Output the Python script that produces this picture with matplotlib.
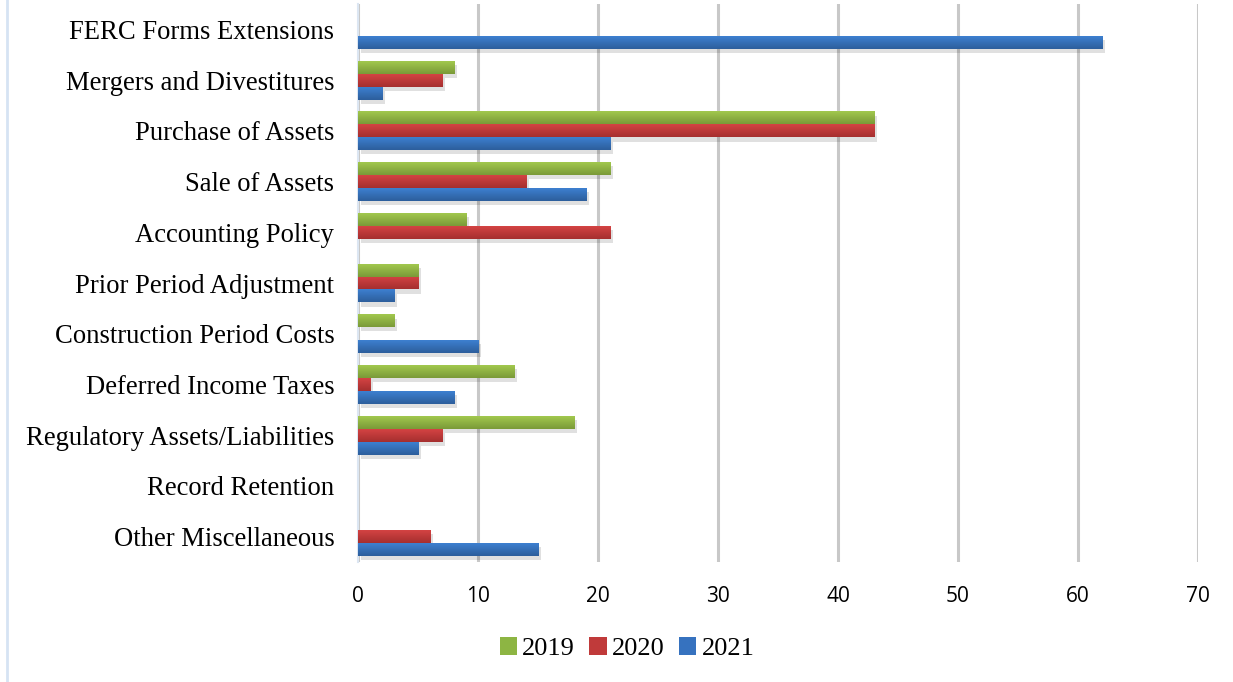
import numpy as np
import matplotlib
matplotlib.use("Agg")
import matplotlib.pyplot as plt
from matplotlib.colors import LinearSegmentedColormap
from matplotlib.patches import Patch
from matplotlib.lines import Line2D
import matplotlib.patheffects as pe

categories = ["FERC Forms Extensions", "Mergers and Divestitures", "Purchase of Assets",
              "Sale of Assets", "Accounting Policy", "Prior Period Adjustment",
              "Construction Period Costs", "Deferred Income Taxes",
              "Regulatory Assets/Liabilities", "Record Retention", "Other Miscellaneous"]
years = ["2019", "2020", "2021"]
v2019 = [0, 8, 43, 21, 9, 5, 3, 13, 18, 0, 0]
v2020 = [0, 7, 43, 14, 21, 5, 0, 1, 7, 0, 6]
v2021 = [62, 2, 21, 19, 0, 3, 10, 8, 5, 0, 15]
xticks = list(range(0, 80, 10))

# (top colour, bottom colour, legend colour)
shades = [("#a2c84e", "#7a9a38", "#8db543"),
          ("#d44343", "#a52f2f", "#c03a3a"),
          ("#3d80d0", "#2d5e9c", "#3672bf")]

fig = plt.figure(figsize=(12.33, 6.82), dpi=100)
ax = fig.add_axes([0.2903, 0.176, 0.6813, 0.818])

n = len(categories)
y = np.arange(n)
h = 0.255
offsets = [-h, 0, h]

for vals, off, (c_top, c_bot, _) in zip([v2019, v2020, v2021], offsets, shades):
    bars = ax.barh(y + off, vals, height=h, color=c_bot, linewidth=0, zorder=3,
                   path_effects=[pe.SimplePatchShadow(offset=(2, -3), alpha=0.12, shadow_rgbFace="black"), pe.Normal()])
    cmap = LinearSegmentedColormap.from_list("g", [c_top, c_bot])
    grad = np.linspace(0, 1, 64).reshape(-1, 1)
    for b, v in zip(bars, vals):
        if v <= 0:
            continue
        x0, y0 = b.get_x(), b.get_y()
        im = ax.imshow(grad, cmap=cmap, aspect="auto", zorder=4,
                       extent=(x0, x0 + b.get_width(), y0 + b.get_height(), y0), origin="upper")
        im.set_clip_path(b)

ax.set_xlim(0, 70)
ax.set_ylim(n - 0.5, -0.5)
ax.set_xticks(xticks)
ax.set_xticklabels([str(t) for t in xticks], family="Open Sans", fontsize=15)
ax.set_yticks(y)
ax.set_yticklabels(categories, family="Liberation Serif", fontsize=19.2)
ax.tick_params(axis="both", length=0)
ax.tick_params(axis="y", pad=17)
ax.tick_params(axis="x", pad=17)
ax.grid(axis="x", color="#c8c8c8", linewidth=2.2, zorder=0)
for s in ["top", "right", "bottom"]:
    ax.spines[s].set_visible(False)
ax.spines["left"].set_color("#dce6f2")
ax.spines["left"].set_linewidth(1.5)

handles = [Patch(facecolor=s[2], label=yr) for s, yr in zip(shades, years)]
fig.legend(handles=handles, loc="center", bbox_to_anchor=(0.5085, 0.049), ncol=3, frameon=False,
           prop={"family": "Liberation Serif", "size": 19}, handlelength=0.65, handleheight=0.65,
           handletextpad=0.2, columnspacing=0.55)

fig.add_artist(Line2D([0.0057, 0.0057], [0, 1], transform=fig.transFigure, color="#d6e3f3", linewidth=2))

fig.savefig("out.png", dpi=100)
